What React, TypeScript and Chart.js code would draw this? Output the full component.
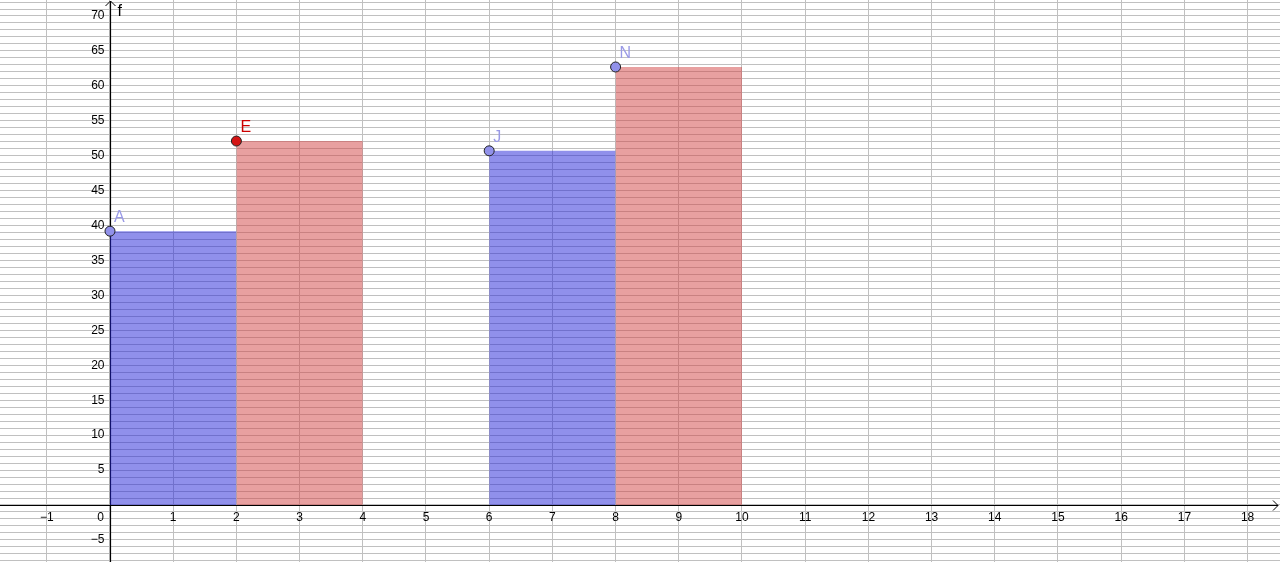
import React, { useEffect, useRef } from "react";
import { Chart, registerables } from "chart.js";

Chart.register(...registerables);

// Axis window (data units)
const X_MIN = -1.7405;
const X_MAX = 18.513;
const Y_MIN = -8.16;
const Y_MAX = 72.29;

// Tick labels
const X_TICKS = [-1, 1, 2, 3, 4, 5, 6, 7, 8, 9, 10, 11, 12, 13, 14, 15, 16, 17, 18];
const Y_TICKS = [-5, 5, 10, 15, 20, 25, 30, 35, 40, 45, 50, 55, 60, 65, 70];

// Bars: start, height (all bars are 2 wide)
const BLUE_STARTS = [0, 6];
const BLUE_HEIGHTS = [39.2, 50.7];
const RED_STARTS = [2, 8];
const RED_HEIGHTS = [52.1, 62.7];
const BAR_WIDTH = 2;

// Points
const POINT_NAMES = ["A", "E", "J", "N"];
const POINT_X = [0, 2, 6, 8];
const POINT_Y = [39.2, 52.1, 50.7, 62.7];
const POINT_COLORS = ["#9191ea", "#d41414", "#9191ea", "#9191ea"];
const LABEL_COLORS = ["#9a9ae6", "#cc0000", "#9a9ae6", "#9a9ae6"];

const BLUE_FILL = "rgba(33,33,215,0.5)";
const RED_FILL = "rgba(209,65,65,0.5)";
const FONT = '"Liberation Sans", Arial, sans-serif';

const minus = (v: number) => (v < 0 ? "\u2212" + Math.abs(v) : String(v));

function barDataset(x0: number, h: number, color: string) {
  return {
    type: "line" as const,
    data: [
      { x: x0, y: 0 },
      { x: x0, y: h },
      { x: x0 + BAR_WIDTH, y: h },
      { x: x0 + BAR_WIDTH, y: 0 },
    ],
    fill: "origin",
    backgroundColor: color,
    borderWidth: 0,
    borderColor: "rgba(0,0,0,0)",
    pointRadius: 0,
    tension: 0,
    order: 2,
  };
}

const axesPlugin = {
  id: "geoAxes",
  beforeDatasetsDraw(chart: any) {
    const { ctx, scales } = chart;
    const xs = scales.x;
    const ys = scales.y;
    const ox = Math.round(xs.getPixelForValue(0)) + 0.5;
    const oy = Math.round(ys.getPixelForValue(0)) + 0.5;
    const right = chart.width - 2;
    const top = 1;
    ctx.save();
    ctx.strokeStyle = "#000";
    ctx.lineWidth = 1.2;
    ctx.beginPath();
    ctx.moveTo(0, oy);
    ctx.lineTo(right, oy);
    ctx.moveTo(ox, chart.height);
    ctx.lineTo(ox, top);
    ctx.stroke();
    ctx.lineWidth = 1;
    ctx.beginPath();
    ctx.moveTo(right - 5, oy - 5);
    ctx.lineTo(right, oy);
    ctx.lineTo(right - 5, oy + 5);
    ctx.moveTo(ox - 5, top + 5);
    ctx.lineTo(ox, top);
    ctx.lineTo(ox + 5, top + 5);
    ctx.stroke();

    ctx.fillStyle = "#000";
    ctx.font = `12px ${FONT}`;
    ctx.textBaseline = "middle";
    ctx.textAlign = "center";
    X_TICKS.forEach((v) => {
      ctx.fillText(minus(v), xs.getPixelForValue(v), oy + 12);
    });
    ctx.fillText("0", ox - 10, oy + 12);
    ctx.textAlign = "right";
    Y_TICKS.forEach((v) => {
      ctx.fillText(minus(v), ox - 6, ys.getPixelForValue(v));
    });
    ctx.textAlign = "left";
    ctx.textBaseline = "alphabetic";
    ctx.font = `16px ${FONT}`;
    ctx.fillText("f", ox + 7, top + 15);
    ctx.restore();
  },
  afterDatasetsDraw(chart: any) {
    const { ctx, scales } = chart;
    ctx.save();
    ctx.font = `16px ${FONT}`;
    ctx.textAlign = "left";
    ctx.textBaseline = "alphabetic";
    POINT_NAMES.forEach((n, i) => {
      const px = scales.x.getPixelForValue(POINT_X[i]);
      const py = scales.y.getPixelForValue(POINT_Y[i]);
      ctx.fillStyle = LABEL_COLORS[i];
      ctx.fillText(n, px + 4, py - 9);
    });
    ctx.restore();
  },
};

export default function App() {
  const ref = useRef<HTMLCanvasElement | null>(null);
  useEffect(() => {
    document.body.style.margin = "0";
    const datasets: any[] = [
      {
        type: "scatter",
        data: POINT_X.map((x, i) => ({ x, y: POINT_Y[i] })),
        pointRadius: 5,
        pointHoverRadius: 5,
        pointBackgroundColor: POINT_COLORS,
        pointBorderColor: "#222",
        pointBorderWidth: 1,
        showLine: false,
        clip: false,
        order: 0,
      },
    ];
    BLUE_STARTS.forEach((s, i) => datasets.push(barDataset(s, BLUE_HEIGHTS[i], BLUE_FILL)));
    RED_STARTS.forEach((s, i) => datasets.push(barDataset(s, RED_HEIGHTS[i], RED_FILL)));

    const chart = new Chart(ref.current!, {
      type: "scatter",
      data: { datasets },
      options: {
        animation: false,
        responsive: false,
        devicePixelRatio: 1,
        layout: { padding: 0, autoPadding: false },
        plugins: { legend: { display: false }, tooltip: { enabled: false }, title: { display: false } },
        events: [],
        scales: {
          x: {
            type: "linear",
            min: X_MIN,
            max: X_MAX,
            border: { display: false },
            grid: { color: "#c0c0c0", lineWidth: 1, drawTicks: false, tickLength: 0 },
            ticks: { display: false, stepSize: 1, autoSkip: false, includeBounds: false },
          },
          y: {
            type: "linear",
            min: Y_MIN,
            max: Y_MAX,
            border: { display: false },
            grid: { color: "#c0c0c0", lineWidth: 1, drawTicks: false, tickLength: 0 },
            ticks: { display: false, stepSize: 1, autoSkip: false, includeBounds: false },
          },
        },
      } as any,
      plugins: [axesPlugin],
    });
    return () => chart.destroy();
  }, []);
  return (
    <div style={{ position: "absolute", left: 0, top: 0, width: 1280, height: 562, background: "#fff" }}>
      <canvas ref={ref} width={1280} height={562} />
    </div>
  );
}
